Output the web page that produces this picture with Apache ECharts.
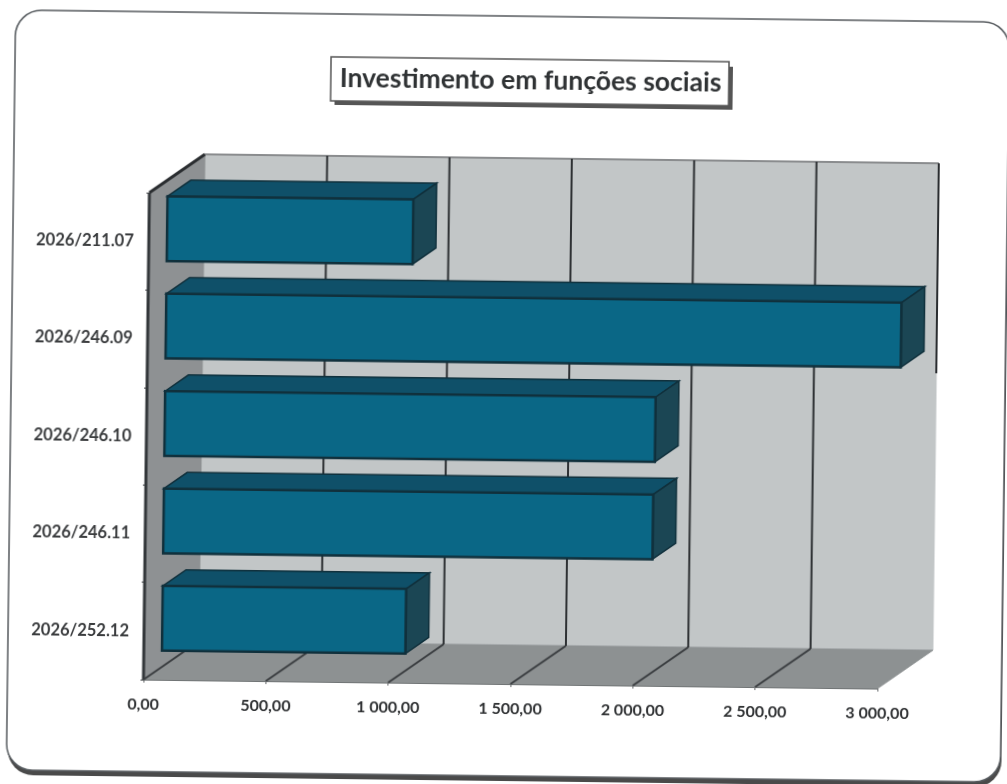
<!DOCTYPE html>
<html><head><meta charset="utf-8">
<style>html,body{margin:0;padding:0;background:#fff;overflow:hidden}
#c{width:1007px;height:784px;transform:rotate(0.7deg);transform-origin:50% 50%;filter:blur(0.4px)}</style>
<script src="https://cdn.jsdelivr.net/npm/echarts@6/dist/echarts.min.js"></script>
</head><body><div id="c"></div>
<script>
const titleText = 'Investimento em funções sociais';
const categories = ['2026/211.07','2026/246.09','2026/246.10','2026/246.11','2026/252.12'];
const values = [1005, 3005, 2005, 2000, 995];
const xTicks = [0, 500, 1000, 1500, 2000, 2500, 3000];
const xTickLabels = ['0,00','500,00','1 000,00','1 500,00','2 000,00','2 500,00','3 000,00'];

const DX = 55, DY = -39;              // depth vector of the 3D box
const BAR_D0 = 0.33, BAR_D1 = 0.75;   // bar front/back depth fractions
const off = (p, d) => [p[0] + DX * d, p[1] + DY * d];
const poly = (pts, fill, stroke, lw) => ({type:'polygon', shape:{points:pts}, style:{fill, stroke:stroke||fill, lineWidth:lw==null?1:lw}});
const seg = (a, b, stroke, lw) => ({type:'line', shape:{x1:a[0],y1:a[1],x2:b[0],y2:b[1]}, style:{stroke, lineWidth:lw}});

function renderBox(params, api) {
  const r = params.coordSys;
  const tl = [r.x, r.y], bl = [r.x, r.y + r.height], br = [r.x + r.width, r.y + r.height], tr = [r.x + r.width, r.y];
  return {type:'group', children:[
    poly([off(tl,1), off(tr,1), off(br,1), off(bl,1)], '#c2c6c7'),
    poly([bl, br, off(br,1), off(bl,1)], '#8d9192'),
    poly([tl, off(tl,1), off(bl,1), bl], '#8e9193'),
    seg(off(tl,1), off(tr,1), '#8a8c8e', 2),
    seg(off(tr,1), [off(tr,1)[0], off(tr,1)[1] + 210], '#2a2d30', 2),
    seg(tl, off(tl,1), '#2a2d30', 3),
    seg(tl, bl, '#33373a', 3)
  ]};
}
function renderGrid(params, api) {
  const r = params.coordSys, v = api.value(0);
  const front = api.coord([v, categories.length - 0.5]);
  const f = [front[0], r.y + r.height], b = off(f, 1), top = [b[0], r.y + DY];
  const ch = [];
  if (v < xTicks[xTicks.length - 1]) ch.push(seg(f, b, '#3a3d40', 2));
  if (v > 0 && v < xTicks[xTicks.length - 1]) ch.push(seg(b, top, '#2e3134', 2));
  return {type:'group', children:ch};
}
function renderBar(params, api) {
  const y = api.coord([0, api.value(1)])[1], h = api.size([0, 1])[1] * 0.665;
  const x0 = api.coord([0, api.value(1)])[0], x1 = api.coord([api.value(0), api.value(1)])[0];
  const a = off([x0, y - h/2], BAR_D0), b = off([x1, y - h/2], BAR_D0),
        c = off([x1, y + h/2], BAR_D0), d = off([x0, y + h/2], BAR_D0);
  const dd = BAR_D1 - BAR_D0, g = p => off(p, dd);
  const line = '#10303c';
  return {type:'group', children:[
    poly([a, g(a), g(b), b], '#0f5069', line, 1.5),
    poly([b, g(b), g(c), c], '#1b4654', line, 1.5),
    poly([a, b, c, d], '#0a6786', line, 2.5)
  ]};
}

const chart = echarts.init(document.getElementById('c'), null, {renderer:'canvas'});
const font = 'Lato, "Open Sans", sans-serif';
chart.setOption({
  animation:false,
  backgroundColor:'#fff',
  graphic:[
    {type:'rect', z:-12, shape:{x:12,y:21,width:994,height:760,r:26}, style:{fill:'#4a4a4a'}},
    {type:'rect', z:-11, shape:{x:11,y:16,width:994,height:760,r:26}, style:{fill:'#fff',stroke:'#555a5e',lineWidth:1.5}},
    {type:'rect', z:-5, shape:{x:331,y:64,width:398,height:43}, style:{fill:'#555'}}
  ],
  title:{text:titleText,left:327,top:59,backgroundColor:'#fff',borderColor:'#555',borderWidth:1.5,
    padding:[8,8,9,9],
    textStyle:{fontFamily:font,fontWeight:'bold',fontSize:26.5,color:'#2f3234'}},
  grid:{left:147,top:197,width:734,height:487,containLabel:false},
  xAxis:{type:'value',min:0,max:3000,interval:500,
    axisLine:{show:true,onZero:false,lineStyle:{color:'#55585a',width:2}},
    axisTick:{show:true,length:3,lineStyle:{color:'#66696b'}},
    splitLine:{show:false},
    axisLabel:{margin:17,fontFamily:font,fontWeight:'bold',fontSize:16,color:'#2e3032',
      hideOverlap:false,showMinLabel:true,showMaxLabel:true,
      formatter:v=>xTickLabels[xTicks.indexOf(v)]}},
  yAxis:{type:'category',inverse:true,data:categories,
    axisLine:{show:false},
    axisTick:{show:true,length:3,lineStyle:{color:'#44474a'}},
    axisLabel:{margin:15,padding:[5,0,0,0],fontFamily:font,fontWeight:'bold',fontSize:16.5,color:'#3a3c3e'}},
  series:[
    {type:'custom',name:'box',z:1,silent:true,clip:false,data:[[0,0]],renderItem:renderBox,encode:{x:0,y:1}},
    {type:'custom',name:'grid',z:2,silent:true,clip:false,data:xTicks.map(v=>[v,0]),renderItem:renderGrid,encode:{x:0,y:1}},
    {type:'custom',name:'Investimento',z:3,clip:false,data:values.map((v,i)=>[v,i]),renderItem:renderBar,encode:{x:0,y:1}}
  ]
});
</script></body></html>
